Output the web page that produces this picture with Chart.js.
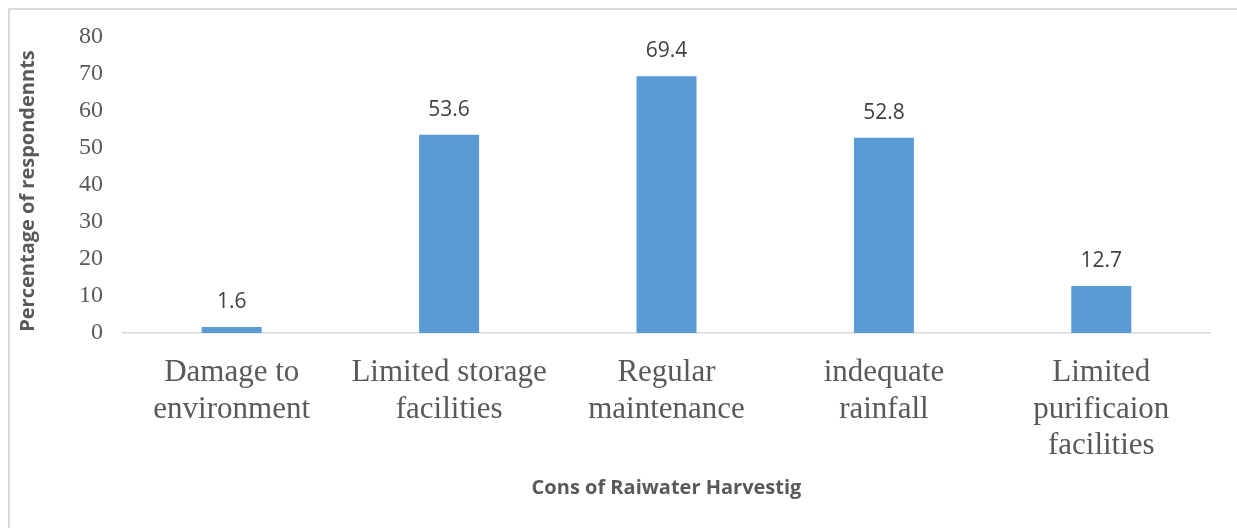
<!DOCTYPE html>
<html>
<head>
<meta charset="utf-8">
<script src="https://cdn.jsdelivr.net/npm/chart.js@4/dist/chart.umd.min.js"></script>
<style>
  html, body { margin: 0; padding: 0; background: #ffffff; overflow: hidden; }
  #wrap { position: relative; width: 1237px; height: 528px; }
  #frame { position: absolute; left: 8px; top: 8px; width: 1260px; height: 560px;
           border: 2px solid #d9d9d9; box-sizing: border-box; pointer-events: none; }
  canvas { position: absolute; left: 0; top: 0; }
</style>
</head>
<body>
<div id="wrap">
  <canvas id="chart" width="1237" height="528"></canvas>
  <div id="frame"></div>
</div>
<script>
// Cons of rainwater harvesting, % of respondents
const categories = [
  ["Damage to", "environment"],
  ["Limited storage", "facilities"],
  ["Regular", "maintenance"],
  ["indequate", "rainfall"],
  ["Limited", "purificaion", "facilities"]
];
const percentages = [1.6, 53.6, 69.4, 52.8, 12.7];
const yTicks = [0, 10, 20, 30, 40, 50, 60, 70, 80];

const xTitle = "Cons of Raiwater Harvestig";
const yTitle = "Percentage of respondennts";

const serif = '"Liberation Serif", "Times New Roman", serif';
const sans = '"Open Sans", "Liberation Sans", sans-serif';

// Value labels above each bar, plus the vertical axis title
const annotations = {
  id: 'annotations',
  afterDatasetsDraw(chart) {
    const ctx = chart.ctx;
    const meta = chart.getDatasetMeta(0);
    ctx.save();
    ctx.font = '21px ' + sans;
    ctx.fillStyle = '#404040';
    ctx.textAlign = 'center';
    ctx.textBaseline = 'middle';
    meta.data.forEach((bar, i) => {
      ctx.fillText(String(chart.data.datasets[0].data[i]), bar.x, bar.y - 25);
    });
    ctx.restore();
  },
  afterDraw(chart) {
    const ctx = chart.ctx;
    const y = chart.scales.y;
    ctx.save();
    ctx.font = 'bold 20px ' + sans;
    ctx.fillStyle = '#595959';
    ctx.textAlign = 'center';
    ctx.textBaseline = 'middle';
    ctx.translate(28, (y.top + y.bottom) / 2 + 6);
    ctx.rotate(-Math.PI / 2);
    ctx.fillText(yTitle, 0, 0);
    ctx.restore();
  }
};

new Chart(document.getElementById('chart'), {
  type: 'bar',
  data: {
    labels: categories,
    datasets: [{
      data: percentages,
      backgroundColor: '#5b9bd5',
      borderWidth: 0,
      categoryPercentage: 1,
      barPercentage: 0.276
    }]
  },
  options: {
    responsive: false,
    animation: false,
    layout: { padding: { top: 37, right: 27, bottom: 0, left: 0 } },
    plugins: { legend: { display: false }, tooltip: { enabled: false } },
    scales: {
      x: {
        grid: { display: false, drawTicks: false },
        border: { display: true, color: '#d9d9d9', width: 1.5 },
        ticks: {
          autoSkip: false, maxRotation: 0, minRotation: 0, padding: 22,
          color: '#595959',
          font: { family: serif, size: 31, lineHeight: 1.17 }
        },
        title: {
          display: true, text: xTitle, color: '#595959',
          font: { family: sans, size: 20, weight: 'bold', lineHeight: 1.2 },
          padding: { top: 0, bottom: 28 }
        },
        afterFit(scale) { scale.height = 195; }
      },
      y: {
        min: 0, max: 80,
        grid: { display: false, drawTicks: false },
        border: { display: false },
        afterBuildTicks(scale) { scale.ticks = yTicks.map(v => ({ value: v })); },
        ticks: {
          padding: 20, color: '#595959',
          font: { family: serif, size: 24 }
        },
        afterFit(scale) { scale.width = 123; }
      }
    }
  },
  plugins: [annotations]
});
</script>
</body>
</html>
